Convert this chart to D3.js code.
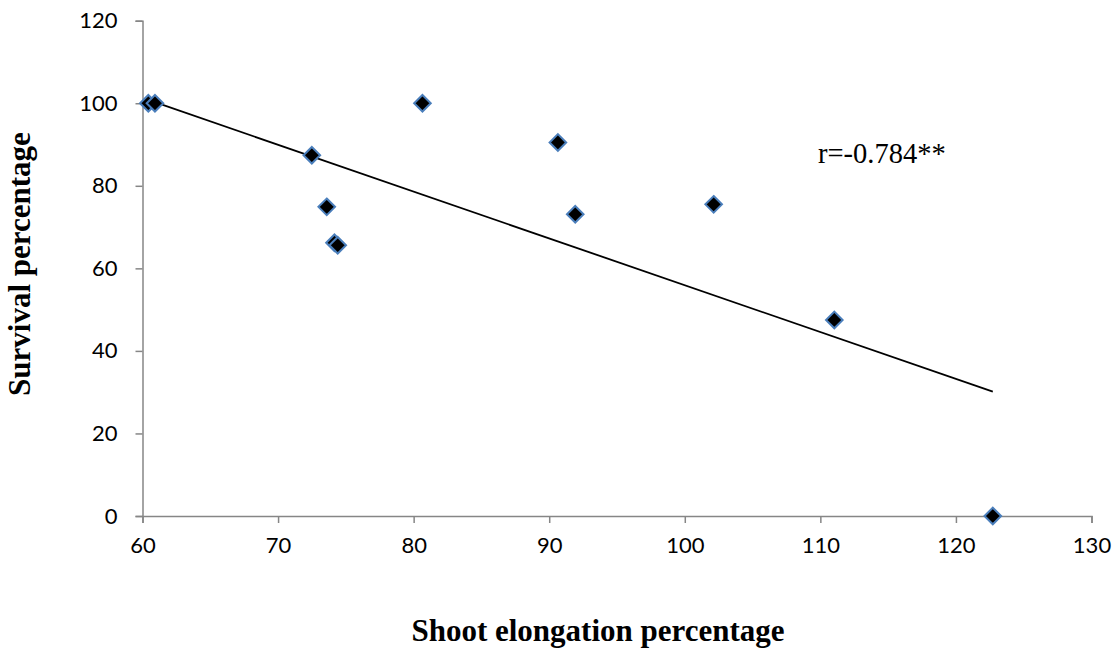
<!DOCTYPE html>
<html>
<head>
<meta charset="utf-8">
<script src="https://cdn.jsdelivr.net/npm/d3@7/dist/d3.min.js"></script>
<style>
  html, body { margin: 0; padding: 0; background: #fff; }
  svg { display: block; }
</style>
</head>
<body>
<svg id="chart" width="1114" height="649"></svg>
<script>
// Data
const shootElongation = [60.43, 60.92, 72.49, 73.59, 74.16, 74.40, 80.65, 90.64, 91.92, 102.13, 111.03, 122.72];
const survival        = [100,   100,   87.4,  74.9,  66.2,  65.6,  100,   90.5,  73.1,  75.5,   47.5,   0];
const xTickValues = [60, 70, 80, 90, 100, 110, 120, 130];
const yTickValues = [0, 20, 40, 60, 80, 100, 120];
const corrLabel = "r=-0.784**";
const xTitle = "Shoot elongation percentage";
const yTitle = "Survival percentage";

const svg = d3.select("#chart");
const x = d3.scaleLinear().domain([60, 130]).range([142.5, 1091.5]);
const y = d3.scaleLinear().domain([0, 120]).range([516, 20.7]);

const axisColor = "#868686";
const tickFont = "Lato, 'Open Sans', sans-serif";
const serif = "'Liberation Serif', 'Times New Roman', serif";

// X axis
const xAxis = svg.append("g").attr("transform", `translate(0,${y(0)})`)
  .call(d3.axisBottom(x).tickValues(xTickValues).tickSize(7).tickPadding(14).tickFormat(d3.format("d")));
// Y axis
const yAxis = svg.append("g").attr("transform", `translate(${x(60)},0)`)
  .call(d3.axisLeft(y).tickValues(yTickValues).tickSize(7).tickPadding(18).tickFormat(d3.format("d")));

[xAxis, yAxis].forEach(g => {
  g.select(".domain").attr("stroke", axisColor).attr("stroke-width", 1.5);
  g.selectAll(".tick line").attr("stroke", axisColor).attr("stroke-width", 1.5);
  g.selectAll(".tick text").attr("fill", "#000").style("font-family", tickFont).style("font-size", "22px");
});

// Regression trendline (least squares from the data)
const n = shootElongation.length;
const mx = d3.mean(shootElongation), my = d3.mean(survival);
let sxy = 0, sxx = 0;
for (let i = 0; i < n; i++) {
  sxy += (shootElongation[i] - mx) * (survival[i] - my);
  sxx += (shootElongation[i] - mx) ** 2;
}
const slope = sxy / sxx, intercept = my - slope * mx;
const x0 = d3.min(shootElongation), x1 = d3.max(shootElongation);
svg.append("line")
  .attr("x1", x(x0)).attr("y1", y(intercept + slope * x0))
  .attr("x2", x(x1)).attr("y2", y(intercept + slope * x1))
  .attr("stroke", "#000").attr("stroke-width", 1.8);

// Points (diamonds)
const r = 8.3;
svg.append("g").selectAll("path")
  .data(shootElongation.map((d, i) => [d, survival[i]]))
  .join("path")
  .attr("transform", d => `translate(${x(d[0])},${y(d[1])})`)
  .attr("d", `M0,${-r}L${r},0L0,${r}L${-r},0Z`)
  .attr("fill", "#000")
  .attr("stroke", "#4a7ebb")
  .attr("stroke-width", 2);

// Correlation label
svg.append("text")
  .attr("x", 818).attr("y", 163)
  .style("font-family", serif)
  .style("font-size", "28.5px")
  .text(corrLabel);

// Axis titles
svg.append("text")
  .attr("x", 598).attr("y", 641)
  .attr("text-anchor", "middle")
  .style("font-family", serif)
  .style("font-weight", "bold").style("font-size", "31px")
  .text(xTitle);

svg.append("text")
  .attr("transform", `translate(30,264) rotate(-90)`)
  .attr("text-anchor", "middle")
  .style("font-family", serif)
  .style("font-weight", "bold").style("font-size", "31px")
  .text(yTitle);
</script>
</body>
</html>
